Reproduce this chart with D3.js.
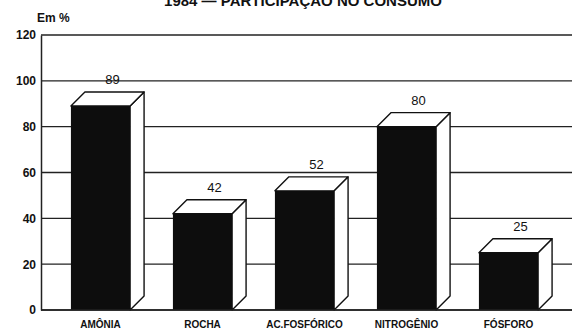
<!DOCTYPE html>
<html>
<head>
<meta charset="utf-8">
<script src="https://cdn.jsdelivr.net/npm/d3@7"></script>
<style>
  body { margin: 0; background: #fff; }
  svg text { font-family: "Liberation Sans", Arial, sans-serif; fill: #111; }
</style>
</head>
<body>
<div id="chartPlaceholder"></div>
<script>
const categories = ["AMÔNIA", "ROCHA", "AC.FOSFÓRICO", "NITROGÊNIO", "FÓSFORO"];
const values = [89, 42, 52, 80, 25];
const yTicks = [0, 20, 40, 60, 80, 100, 120];

const width = 572,
  height = 331;
const margin = { top: 35, right: 0, bottom: 19, left: 41 };
const depth = 14;

const svg = d3
  .select("#chartPlaceholder")
  .append("svg")
  .attr("width", width)
  .attr("height", height);

// title, cut off by the top edge in the scan
svg
  .append("text")
  .attr("x", 303)
  .attr("y", 6)
  .attr("text-anchor", "middle")
  .style("font-size", "15px")
  .style("font-weight", "bold")
  .text("1984 — PARTICIPAÇÃO NO CONSUMO");

const y = d3
  .scaleLinear()
  .domain([0, 120])
  .range([height - margin.bottom - 2, margin.top]);

const x = d3
  .scaleBand()
  .domain(categories)
  .range([49.5, 559.5])
  .paddingInner(0.42)
  .paddingOuter(0.21);

// gridlines
svg
  .append("g")
  .selectAll("line")
  .data(yTicks)
  .join("line")
  .attr("x1", margin.left)
  .attr("x2", width)
  .attr("y1", (d) => y(d))
  .attr("y2", (d) => y(d))
  .attr("stroke", "#222")
  .attr("stroke-width", 1.3);

// left axis
const yAxis = svg
  .append("g")
  .attr("transform", `translate(${margin.left}, 0)`)
  .call(d3.axisLeft(y).tickValues(yTicks).tickSize(0).tickPadding(5));
yAxis.select(".domain").attr("stroke", "#222").attr("stroke-width", 1.5);
yAxis
  .selectAll("text")
  .style("font-size", "12px")
  .style("font-weight", "bold")
  .style("font-family", "'Liberation Sans', Arial, sans-serif");

svg
  .append("text")
  .attr("x", 37)
  .attr("y", 22)
  .style("font-size", "12px")
  .style("font-weight", "bold")
  .text("Em %");

// 3d bars
const bars = svg.append("g").selectAll("g").data(values).join("g");

bars
  .append("path")
  .attr("d", (d, i) => {
    const x1 = x(categories[i]) + x.bandwidth(),
      y0 = y(0),
      yt = y(d);
    return `M${x1},${y0} L${x1 + depth},${y0 - depth} L${x1 + depth},${yt - depth} L${x1},${yt} Z`;
  })
  .attr("fill", "#fff")
  .attr("stroke", "#111")
  .attr("stroke-width", 1.4)
  .attr("stroke-linejoin", "round");

bars
  .append("path")
  .attr("d", (d, i) => {
    const x0 = x(categories[i]),
      x1 = x0 + x.bandwidth(),
      yt = y(d);
    return `M${x0},${yt} L${x0 + depth},${yt - depth} L${x1 + depth},${yt - depth} L${x1},${yt} Z`;
  })
  .attr("fill", "#fff")
  .attr("stroke", "#111")
  .attr("stroke-width", 1.4)
  .attr("stroke-linejoin", "round");

bars
  .append("rect")
  .attr("x", (d, i) => x(categories[i]))
  .attr("y", (d) => y(d))
  .attr("width", x.bandwidth())
  .attr("height", (d) => y(0) - y(d))
  .attr("fill", "#0d0d0d");

// value labels
bars
  .append("text")
  .attr("x", (d, i) => x(categories[i]) + x.bandwidth() / 2 + 12)
  .attr("y", (d) => y(d) - depth - 8)
  .attr("text-anchor", "middle")
  .style("font-size", "13px")
  .text((d) => d);

// baseline on top of bars
svg
  .append("line")
  .attr("x1", margin.left)
  .attr("x2", width)
  .attr("y1", y(0))
  .attr("y2", y(0))
  .attr("stroke", "#222")
  .attr("stroke-width", 1.5);

// category labels
svg
  .append("g")
  .selectAll("text")
  .data(categories)
  .join("text")
  .attr("x", (d) => x(d) + x.bandwidth() / 2)
  .attr("y", height - 3)
  .attr("text-anchor", "middle")
  .style("font-size", "10px")
  .style("font-weight", "bold")
  .text((d) => d);
</script>
</body>
</html>
